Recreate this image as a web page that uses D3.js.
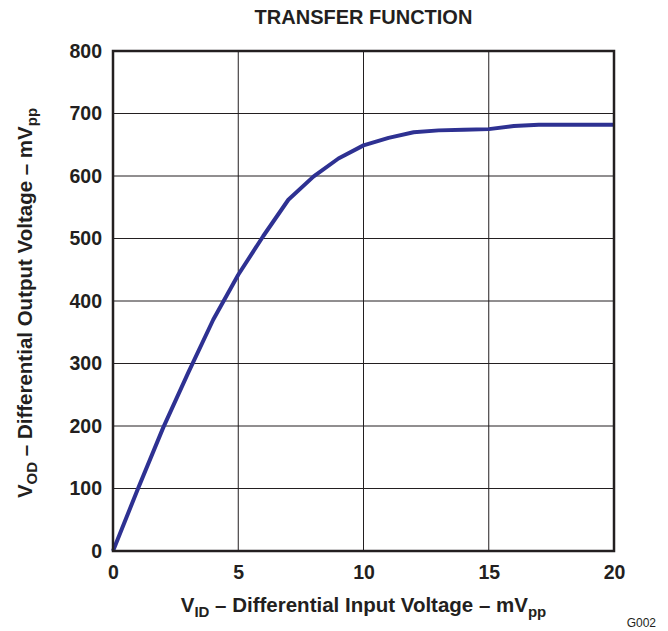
<!DOCTYPE html>
<html>
<head>
<meta charset="UTF-8">
<title>Transfer Function</title>
<script src="https://d3js.org/d3.v7.min.js"></script>
<style>
  body { margin: 0; background: #fff; }
  svg text { font-family: "Liberation Sans", Arial, sans-serif; fill: #231f20; }
</style>
</head>
<body>
<svg id="chart"></svg>
<script>
// input voltage (mVpp) and output voltage (mVpp)
const vid = [0, 1, 2, 3, 4, 5, 6, 7, 8, 9, 10, 11, 12, 13, 14, 15, 16, 17, 18, 19, 20];
const vod = [0, 100, 197, 285, 370, 442, 504, 562, 599, 628, 649, 661, 670, 673, 674, 675, 680, 682, 682, 682, 682];
const xTicks = [0, 5, 10, 15, 20];
const yTicks = [0, 100, 200, 300, 400, 500, 600, 700, 800];

const W = 668, H = 631;
const margin = { top: 51, right: 54, bottom: 80, left: 113 };
const width = W - margin.left - margin.right;
const height = H - margin.top - margin.bottom;

const svg = d3.select('#chart').attr('width', W).attr('height', H);

const x = d3.scaleLinear().domain([0, 20]).range([0, width]);
const y = d3.scaleLinear().domain([0, 800]).range([height, 0]);

const g = svg.append('g').attr('transform', `translate(${margin.left},${margin.top})`);

// grid
g.selectAll('.vgrid').data(xTicks).enter().append('line')
  .attr('x1', d => x(d)).attr('x2', d => x(d))
  .attr('y1', 0).attr('y2', height)
  .attr('stroke', '#231f20').attr('stroke-width', 1);
g.selectAll('.hgrid').data(yTicks).enter().append('line')
  .attr('y1', d => y(d)).attr('y2', d => y(d))
  .attr('x1', 0).attr('x2', width)
  .attr('stroke', '#231f20').attr('stroke-width', 1);

// axes with labels only
const xAxis = g.append('g').attr('transform', `translate(0,${height})`)
  .call(d3.axisBottom(x).tickValues(xTicks).tickSize(0).tickPadding(14));
const yAxis = g.append('g')
  .call(d3.axisLeft(y).tickValues(yTicks).tickSize(0).tickPadding(11));
[xAxis, yAxis].forEach(a => {
  a.select('.domain').remove();
  a.selectAll('text').attr('font-size', 19.5).attr('font-weight', 'bold')
    .attr('font-family', '"Liberation Sans", Arial, sans-serif').attr('fill', '#231f20');
});

// curve
g.append('path')
  .datum(vid.map((d, i) => [d, vod[i]]))
  .attr('fill', 'none')
  .attr('stroke', '#2e3192')
  .attr('stroke-width', 4)
  .attr('stroke-linejoin', 'round')
  .attr('d', d3.line().x(d => x(d[0])).y(d => y(d[1])));

// frame
g.append('rect').attr('width', width).attr('height', height)
  .attr('fill', 'none').attr('stroke', '#231f20').attr('stroke-width', 2.5);

// title
svg.append('text').attr('x', margin.left + width / 2).attr('y', 24)
  .attr('text-anchor', 'middle').attr('font-size', 20).attr('font-weight', 'bold')
  .text('TRANSFER FUNCTION');

// x label
const xl = svg.append('text').attr('x', margin.left + width / 2).attr('y', 612)
  .attr('text-anchor', 'middle').attr('font-size', 20.5).attr('font-weight', 'bold');
xl.append('tspan').text('V');
xl.append('tspan').attr('font-size', 15).attr('dy', 5).text('ID');
xl.append('tspan').attr('dy', -5).text(' – Differential Input Voltage – mV');
xl.append('tspan').attr('font-size', 15).attr('dy', 5).text('pp');

// y label
const yl = svg.append('text')
  .attr('transform', `translate(32,303) rotate(-90)`)
  .attr('text-anchor', 'middle').attr('font-size', 20.5).attr('font-weight', 'bold');
yl.append('tspan').text('V');
yl.append('tspan').attr('font-size', 15).attr('dy', 5).text('OD');
yl.append('tspan').attr('dy', -5).text(' – Differential Output Voltage – mV');
yl.append('tspan').attr('font-size', 15).attr('dy', 5).text('pp');

// figure id
svg.append('text').attr('x', 656).attr('y', 627).attr('text-anchor', 'end')
  .attr('font-size', 12).text('G002');
</script>
</body>
</html>
